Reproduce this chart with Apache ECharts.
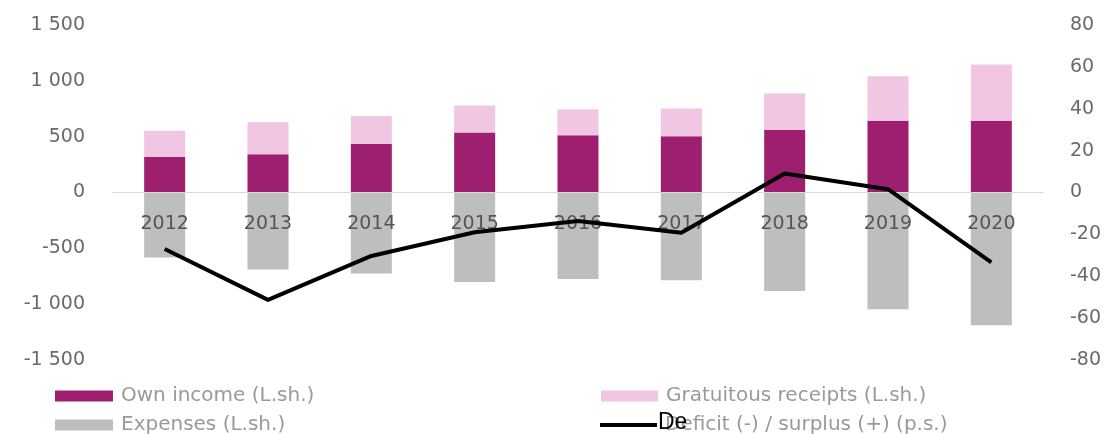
<!DOCTYPE html>
<html>
<head>
<meta charset="utf-8">
<script src="https://cdn.jsdelivr.net/npm/echarts@6/dist/echarts.min.js"></script>
<style>
html,body{margin:0;padding:0;background:#fff;}
#chart{width:1112px;height:434px;}
</style>
</head>
<body>
<div id="chart"></div>
<script>
const categories = ['2012','2013','2014','2015','2016','2017','2018','2019','2020'];
const ownIncome = [319, 343, 435, 537, 513, 504, 561, 642, 642];
const gratuitous = [233, 287, 251, 243, 233, 249, 326, 400, 505];
const expenses = [-582, -690, -726, -801, -774, -786, -881, -1046, -1189];
const deficit = [-27, -51.3, -30.3, -19, -13.6, -19.2, 9.1, 1.6, -33.4];
const leftTicks = {min: -1500, max: 1500, interval: 500};
const rightTicks = {min: -80, max: 80, interval: 20};
const names = ['Own income (L.sh.)', 'Gratuitous receipts (L.sh.)', 'Expenses (L.sh.)', 'Deficit (-) / surplus (+) (p.s.)'];

const FONT = 'DejaVu Sans';
const fmt = v => String(v).replace(/\B(?=(\d{3})+(?!\d))/g, ' ');

const GRID_TOP = 25, GRID_BOTTOM = 74, H = 434;
const plotH = H - GRID_TOP - GRID_BOTTOM;
// distance from grid bottom to the zero of the left axis, via the axis range
const zeroOffset = plotH * (0 - leftTicks.min) / (leftTicks.max - leftTicks.min);

const chart = echarts.init(document.getElementById('chart'), null, {renderer: 'canvas'});

function legendAt(item, left, top, w, h) {
  return {
    data: [item], left: left, top: top, padding: 0, itemGap: 0,
    itemWidth: w, itemHeight: h, selectedMode: false,
    textStyle: {fontFamily: FONT, fontSize: 20, color: '#9a9a9a', lineHeight: 22, padding: [0,0,0,3]}
  };
}

chart.setOption({
  animation: false,
  backgroundColor: '#fff',
  grid: {left: 113, right: 69, top: GRID_TOP, bottom: GRID_BOTTOM, containLabel: false},
  legend: [
    legendAt({name: names[0], icon: 'rect'}, 55, 385, 58, 11),
    legendAt({name: names[1], icon: 'rect'}, 601, 385, 57, 11),
    legendAt({name: names[2], icon: 'rect'}, 55, 414, 58, 11),
    legendAt({name: names[3], icon: 'rect', itemStyle: {color: '#000'}}, 600, 414, 57, 4)
  ],
  xAxis: {
    type: 'category', data: categories, z: 3, position: 'bottom', offset: -zeroOffset,
    axisLine: {show: true, onZero: false, lineStyle: {color: '#d9d9d9', width: 1}},
    axisTick: {show: false},
    axisLabel: {margin: 22, color: '#555', fontFamily: FONT, fontSize: 19}
  },
  yAxis: [
    {
      type: 'value', min: leftTicks.min, max: leftTicks.max, interval: leftTicks.interval,
      axisLine: {show: false}, axisTick: {show: false}, splitLine: {show: false},
      axisLabel: {margin: 28, color: '#6a6a6a', fontFamily: FONT, fontSize: 19, formatter: fmt}
    },
    {
      type: 'value', min: rightTicks.min, max: rightTicks.max, interval: rightTicks.interval,
      axisLine: {show: false}, axisTick: {show: false}, splitLine: {show: false},
      axisLabel: {margin: 27, color: '#6a6a6a', fontFamily: FONT, fontSize: 19, formatter: fmt}
    }
  ],
  series: [
    {name: names[0], type: 'bar', stack: 'a', barWidth: 41, data: ownIncome, itemStyle: {color: '#9e1f6f'}, z: 2},
    {name: names[1], type: 'bar', stack: 'a', barWidth: 41, data: gratuitous, itemStyle: {color: '#f1c6e2'}, z: 2},
    {name: names[2], type: 'bar', stack: 'a', barWidth: 41, data: expenses, itemStyle: {color: '#bebebe'}, z: 2},
    {name: names[3], type: 'line', yAxisIndex: 1, data: deficit, symbol: 'none', showSymbol: false,
     lineStyle: {color: '#000', width: 4}, itemStyle: {color: '#000'}, z: 5}
  ],
  graphic: [
    {type: 'text', left: 658, top: 411, z: 100,
     style: {text: 'De', fill: '#000', font: '23px "Liberation Sans"'}}
  ]
});
</script>
</body>
</html>
